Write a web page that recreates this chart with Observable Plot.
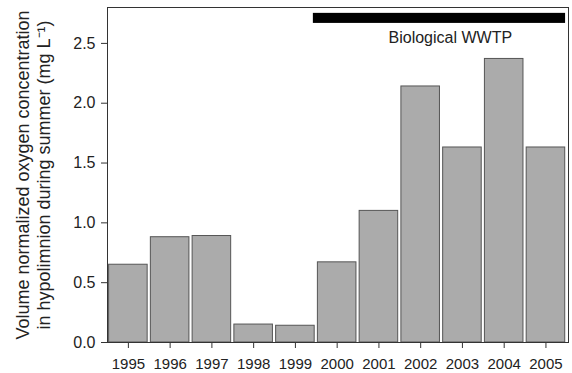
<!DOCTYPE html>
<html>
<head>
<meta charset="utf-8">
<script src="https://cdn.jsdelivr.net/npm/d3@7"></script>
<script src="https://cdn.jsdelivr.net/npm/@observablehq/plot@0.6"></script>
<style>
  html, body { margin: 0; padding: 0; background: #fff; }
  svg { display: block; }
</style>
</head>
<body>
<div id="chart"></div>
<script>
const years = [1995, 1996, 1997, 1998, 1999, 2000, 2001, 2002, 2003, 2004, 2005];
const values = [0.65, 0.88, 0.89, 0.15, 0.14, 0.67, 1.10, 2.14, 1.63, 2.37, 1.63];
const yTicks = [0, 0.5, 1.0, 1.5, 2.0, 2.5];
const yTitle = "Volume normalized oxygen concentration\nin hypolimnion during summer (mg L\u207B\u00B9)";
const wwtpLabel = "Biological WWTP";
const wwtpStart = 1999.43, wwtpEnd = 2005.47;
const wwtpLow = 2.667, wwtpHigh = 2.751;
const wwtpLabelX = 2002.71, wwtpLabelY = 2.55;

const data = years.map((year, i) => ({year, value: values[i]}));

const chart = Plot.plot({
  width: 572,
  height: 373,
  marginLeft: 107,
  marginRight: 4,
  marginTop: 7,
  marginBottom: 31,
  style: {fontFamily: "'Liberation Sans', Arial, sans-serif", color: "#222", background: "#fff"},
  x: {type: "linear", domain: [1994.5, 2005.54]},
  y: {domain: [0, 2.8]},
  marks: [
    Plot.rectY(data, {
      x1: d => d.year - 0.5, x2: d => d.year + 0.5, y: "value",
      insetLeft: 1.6, insetRight: 1.6,
      fill: "#ababab", stroke: "#555", strokeWidth: 1
    }),
    Plot.rect([{a: wwtpStart, b: wwtpEnd, lo: wwtpLow, hi: wwtpHigh}], {
      x1: "a", x2: "b", y1: "lo", y2: "hi", fill: "#000"
    }),
    Plot.text([wwtpLabel], {
      x: () => wwtpLabelX, y: () => wwtpLabelY, text: d => d,
      fontSize: 16, fill: "#222", textAnchor: "middle"
    }),
    Plot.axisX({
      ticks: years, tickFormat: d => String(d), tickSize: 6, tickPadding: 10,
      fontSize: 15, label: null, stroke: "#333"
    }),
    Plot.axisY({
      ticks: yTicks, tickFormat: d => d.toFixed(1), tickSize: 6, tickPadding: 6,
      fontSize: 16, label: null, stroke: "#333"
    }),
    Plot.text([yTitle], {
      frameAnchor: "left", rotate: -90, dx: -75, text: d => d,
      fontSize: 18, lineHeight: 1.2, textAnchor: "middle", lineAnchor: "middle", fill: "#222"
    }),
    Plot.frame({stroke: "#333"})
  ]
});
document.getElementById("chart").appendChild(chart);
</script>
</body>
</html>
